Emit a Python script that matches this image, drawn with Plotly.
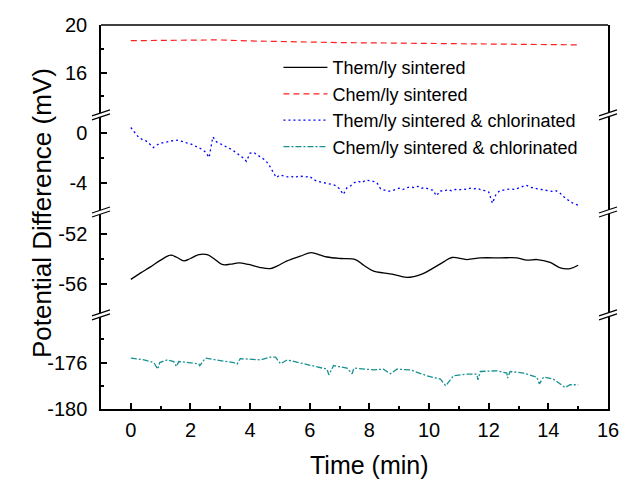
import plotly.graph_objects as go

# --- data ---
# Them/ly sintered (black, -56 segment)
t_black = [0.0, 0.33, 0.66, 1.0, 1.33, 1.55, 1.78, 2.0, 2.28, 2.56, 2.78, 3.06, 3.34, 3.62,
           3.95, 4.34, 4.68, 4.9, 5.24, 5.68, 6.05, 6.36, 6.58, 7.02, 7.53, 7.81, 8.14, 8.47,
           8.76, 9.26, 9.76, 10.15, 10.49, 10.77, 11.27, 11.72, 12.39, 12.95, 13.28, 13.62,
           14.06, 14.4, 14.73, 15.0]
v_black = [-55.6, -55.09, -54.62, -54.09, -53.7, -53.88, -54.15, -53.96, -53.65, -53.65,
           -53.96, -54.43, -54.41, -54.3, -54.43, -54.67, -54.75, -54.56, -54.15, -53.78,
           -53.49, -53.7, -53.84, -53.96, -54.04, -54.49, -54.96, -55.09, -55.19, -55.45,
           -55.19, -54.7, -54.22, -53.88, -54.04, -53.91, -53.91, -53.91, -54.09, -54.04,
           -54.27, -54.7, -54.75, -54.49]

# Chem/ly sintered (red, top segment)
t_red = [0, 1, 2, 2.9, 4, 5, 6, 7, 8, 9, 10, 11, 12, 13, 14, 15]
v_red = [18.68, 18.7, 18.72, 18.75, 18.66, 18.6, 18.56, 18.52, 18.5, 18.47, 18.44, 18.4,
         18.38, 18.37, 18.35, 18.33]

# Them/ly sintered & chlorinated (blue, 0 segment), sampled every 0.125 min
t_blue = [i * 0.125 for i in range(121)]
v_blue = [0.45, 0.05, -0.3, -0.5, -0.6, -0.85, -1.15, -0.95, -0.8, -0.75, -0.7, -0.62, -0.55,
          -0.6, -0.72, -0.78, -0.85, -1.0, -1.15, -1.28, -1.5, -1.95, -0.3, -0.7, -0.85, -1.0,
          -1.1, -1.3, -1.5, -1.7, -1.95, -2.25, -1.6, -1.55, -1.75, -1.9, -2.15, -2.5, -3.0,
          -3.55, -3.35, -3.4, -3.5, -3.45, -3.55, -3.42, -3.45, -3.5, -3.45, -3.7, -3.85, -3.9,
          -4.0, -4.05, -4.1, -4.2, -4.45, -4.9, -4.35, -4.2, -3.95, -3.85, -3.95, -3.75, -3.78,
          -3.85, -3.95, -4.45, -4.55, -4.65, -4.6, -4.5, -4.4, -4.5, -4.35, -4.3, -4.35, -4.25,
          -4.4, -4.35, -4.5, -4.55, -5.0, -4.6, -4.65, -4.5, -4.6, -4.5, -4.55, -4.45, -4.5,
          -4.4, -4.45, -4.4, -4.55, -4.6, -4.7, -5.6, -4.85, -4.6, -4.55, -4.5, -4.45, -4.5,
          -4.4, -4.3, -4.15, -4.3, -4.4, -4.45, -4.5, -4.55, -4.6, -4.65, -4.6, -4.75, -5.05,
          -5.3, -5.5, -5.65, -5.75]

# Chem/ly sintered & chlorinated (teal, bottom segment)
t_teal = [0, 0.44, 0.77, 0.9, 0.97, 1.22, 1.44, 1.53, 1.61, 2.0, 2.28, 2.31, 2.5, 3.0, 3.45,
          3.56, 3.67, 4.34, 4.68, 4.85, 5.02, 5.24, 5.91, 6.58, 6.64, 6.8, 7.25, 7.42, 7.48,
          8.14, 8.47, 8.7, 8.92, 9.37, 9.93, 10.38, 10.56, 10.82, 11.27, 11.6, 11.64, 11.72,
          12.27, 12.61, 12.63, 12.72, 13.17, 13.61, 13.7, 13.84, 14.17, 14.56, 14.73, 15.0]
v_teal = [-175.62, -175.77, -176.0, -176.57, -176.0, -175.77, -175.91, -176.34, -175.91,
          -176.05, -176.11, -176.28, -175.62, -175.83, -176.0, -176.14, -175.66, -175.77,
          -175.54, -175.54, -176.11, -175.77, -176.14, -176.57, -177.06, -176.26, -176.48,
          -176.97, -176.48, -176.63, -176.57, -176.97, -176.57, -176.63, -177.14, -177.43,
          -178.0, -177.14, -177.0, -177.0, -177.49, -176.77, -176.71, -176.91, -177.34,
          -176.77, -176.91, -177.25, -177.83, -177.25, -177.43, -178.15, -177.91, -177.91]

# --- figure ---
FONT = "Arial, Liberation Sans, sans-serif"
fig = go.Figure()
fig.add_trace(go.Scatter(x=t_black, y=v_black, mode="lines", name="Them/ly sintered",
                         line=dict(color="black", width=1.3, shape="spline"), yaxis="y2"))
fig.add_trace(go.Scatter(x=t_red, y=v_red, mode="lines", name="Chem/ly sintered",
                         line=dict(color="#FF2020", width=1.2, dash="6px,4px"), yaxis="y4"))
fig.add_trace(go.Scatter(x=t_blue, y=v_blue, mode="lines", name="Them/ly sintered & chlorinated",
                         line=dict(color="#0000FF", width=1.3, dash="2px,3px"), yaxis="y3"))
fig.add_trace(go.Scatter(x=t_teal, y=v_teal, mode="lines", name="Chem/ly sintered & chlorinated",
                         line=dict(color="#169090", width=1.3, dash="6px,2px,2px,2px"), yaxis="y"))

breaks = [0.245, 0.513, 0.766]
segs = [  # (axis name, range, domain, major ticks, minor ticks)
    ("yaxis", [-180, -171.9], [0, 0.245], [-176, -180], [-174, -178]),
    ("yaxis2", [-58.4, -50.3], [0.245, 0.513], [-52, -56], [-54]),
    ("yaxis3", [-6.3, 1.46], [0.513, 0.766], [0, -4], [-2]),
    ("yaxis4", [12.45, 20], [0.766, 1], [20, 16], [18, 14]),
]
for name, rng, dom, major, minor in segs:
    fig.update_layout({name: dict(
        range=rng, domain=dom, anchor="x", showgrid=False, zeroline=False,
        showline=True, linecolor="black", linewidth=1.5, mirror=True,
        ticks="inside", ticklen=6, tickwidth=1.5, tickcolor="black",
        tickvals=major, ticktext=[str(v) for v in major], ticklabelstandoff=8,
        minor=dict(tickvals=minor, ticks="inside", ticklen=3, tickwidth=1.5, tickcolor="black"),
        tickfont=dict(family=FONT, size=20, color="black"),
    )})

fig.update_layout(
    xaxis=dict(range=[-1, 16], anchor="y", showgrid=False, zeroline=False,
               showline=True, linecolor="black", linewidth=1.5,
               ticks="inside", ticklen=6, tickwidth=1.5, tickcolor="black",
               tickvals=list(range(0, 17, 2)), ticklabelstandoff=2,
               minor=dict(tickvals=list(range(1, 16, 2)), ticks="inside", ticklen=3,
                          tickwidth=1.5, tickcolor="black"),
               tickfont=dict(family=FONT, size=20, color="black")),
    width=634, height=479,
    margin=dict(l=101, r=26, t=25, b=70),
    plot_bgcolor="white", paper_bgcolor="white",
    font=dict(family=FONT, color="black"),
    legend=dict(x=0.35, y=0.937, xanchor="left", yanchor="top", bgcolor="rgba(0,0,0,0)",
                font=dict(family=FONT, size=18, color="black"), tracegroupgap=0,
                itemwidth=44),
    showlegend=True,
)

# top frame line
fig.add_shape(type="line", xref="paper", yref="paper", x0=0, x1=1, y0=1, y1=1,
              line=dict(color="black", width=1.5))

# axis-break symbols on both sides
for yb in breaks:
    for xb in (0, 1):
        fig.add_shape(type="path", xref="paper", yref="paper", xsizemode="pixel",
                      ysizemode="pixel", xanchor=xb, yanchor=yb,
                      path="M-9,-1 L9,5 L9,1 L-9,-5 Z", fillcolor="white", line_width=0)
        for y0, y1 in ((-1, 5), (-5, 1)):
            fig.add_shape(type="line", xref="paper", yref="paper", xsizemode="pixel",
                          ysizemode="pixel", xanchor=xb, yanchor=yb,
                          x0=-9, y0=y0, x1=9, y1=y1, line=dict(color="black", width=1.2))

fig.add_annotation(text="Potential Difference (mV)", xref="paper", yref="paper",
                   x=-0.15, y=0.51, textangle=-90, showarrow=False,
                   font=dict(family=FONT, size=26, color="black"))
fig.add_annotation(text="Time (min)", xref="x", yref="paper", x=8, y=-0.145,
                   yanchor="middle", showarrow=False,
                   font=dict(family=FONT, size=25, color="black"))

fig.write_html("out.html", config={"displayModeBar": False},
               post_script="document.body.style.margin='0';")
